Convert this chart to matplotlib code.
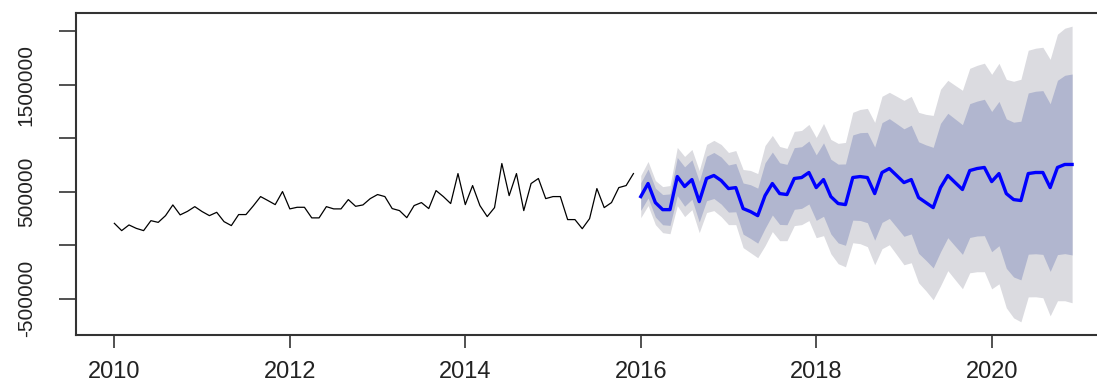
import matplotlib

matplotlib.use("Agg")
import matplotlib.pyplot as plt
import numpy as np

# observed monthly series, Jan 2010 - Dec 2015 (thousands)
hist_start = 2010.0
hist_values = [
    205, 137, 190, 158, 137, 230, 214, 277, 377, 284, 317, 361,
    315, 277, 308, 221, 184, 287, 287, 368, 455, 418, 380, 502,
    340, 355, 355, 256, 256, 361, 340, 340, 427, 364, 377, 436,
    474, 455, 343, 324, 258, 371, 399, 343, 511, 455, 390, 670,
    380, 558, 371, 268, 352, 764, 464, 670, 324, 577, 624, 436,
    455, 455, 240, 240, 155, 249, 530, 352, 399, 539, 558, 670,
]

# forecast, Jan 2016 - Dec 2020 (thousands)
fc_start = 2016.0
fc_mean = [
    455, 577, 399, 333, 333, 642, 549, 614, 408, 624, 652, 605,
    530, 539, 343, 315, 277, 464, 577, 483, 474, 624, 633, 680,
    539, 614, 455, 390, 380, 633, 642, 633, 483, 680, 717, 652,
    586, 614, 446, 399, 352, 539, 652, 586, 521, 698, 717, 727,
    595, 670, 483, 427, 418, 670, 680, 680, 539, 727, 755, 755,
]
fc_lo95 = [
    258, 371, 193, 118, 108, 370, 268, 333, 118, 306, 324, 268,
    193, 193, -22, -69, -116, -4, 128, 43, 43, 184, 193, 231,
    71, 90, -79, -172, -201, 24, 15, -13, -182, -32, 5, -88,
    -182, -163, -350, -425, -509, -379, -237, -322, -406, -257, -247, -247,
    -407, -360, -584, -678, -715, -482, -481, -490, -659, -518, -518, -537,
]
fc_lo80 = [
    326, 442, 264, 192, 186, 464, 365, 430, 218, 416, 437, 385,
    310, 313, 104, 64, 20, 158, 283, 195, 192, 336, 345, 386,
    233, 271, 106, 22, 0, 235, 232, 211, 48, 214, 251, 168,
    84, 106, -75, -140, -211, -61, 71, -8, -85, 73, 87, 90,
    -60, -4, -215, -296, -323, -83, -79, -85, -244, -87, -78, -90,
]
fc_hi80 = [
    584, 712, 534, 474, 480, 820, 733, 798, 598, 832, 867, 825,
    750, 765, 582, 566, 534, 770, 871, 771, 756, 912, 921, 974,
    845, 957, 804, 758, 760, 1031, 1052, 1055, 918, 1146, 1183, 1136,
    1088, 1122, 967, 938, 915, 1139, 1233, 1180, 1127, 1323, 1347, 1364,
    1250, 1344, 1181, 1150, 1159, 1423, 1439, 1445, 1322, 1541, 1588, 1600,
]
fc_hi95 = [
    652, 783, 605, 548, 558, 914, 830, 895, 698, 942, 980, 942,
    867, 885, 708, 699, 670, 932, 1026, 923, 905, 1064, 1073, 1129,
    1007, 1138, 989, 952, 961, 1242, 1269, 1279, 1148, 1392, 1429, 1392,
    1354, 1391, 1242, 1223, 1213, 1457, 1541, 1494, 1448, 1653, 1681, 1701,
    1597, 1700, 1550, 1532, 1551, 1822, 1841, 1850, 1737, 1972, 2028, 2047,
]

x_ticks = [2010, 2012, 2014, 2016, 2018, 2020]
y_ticks = [-500000, 0, 500000, 1000000, 1500000, 2000000]
y_labels = ["-500000", "", "500000", "", "1500000", ""]

hist_t = hist_start + np.arange(len(hist_values)) / 12
fc_t = fc_start + np.arange(len(fc_mean)) / 12
k = 1000

fig = plt.figure(figsize=(10.97, 3.87), dpi=100)
# R-style plot region; the right edge runs past the cropped image
ax = fig.add_axes([0.0693, 0.1344, 0.9429, 0.832])

ax.fill_between(fc_t, np.array(fc_lo95) * k, np.array(fc_hi95) * k,
                color="#DBDBE0", linewidth=0)
ax.fill_between(fc_t, np.array(fc_lo80) * k, np.array(fc_hi80) * k,
                color="#B1B6CF", linewidth=0)
ax.plot(hist_t, np.array(hist_values) * k, color="black", linewidth=0.9)
ax.plot(fc_t, np.array(fc_mean) * k, color="#0000FF", linewidth=2.4)

ax.set_xlim(2009.563, 2021.353)
ax.set_ylim(-838000, 2170000)

ax.set_xticks(x_ticks)
ax.set_xticklabels([str(t) for t in x_ticks], fontsize=17,
                   family="Liberation Sans", color="#222222")
ax.set_yticks(y_ticks)
ax.set_yticklabels(y_labels, fontsize=15, family="Liberation Sans",
                   rotation=90, va="center", color="#222222")
ax.tick_params(axis="x", length=9, width=1.2, pad=10, color="#333333")
ax.tick_params(axis="y", length=12, width=1.2, pad=17, color="#333333")
for spine in ax.spines.values():
    spine.set_linewidth(1.5)
    spine.set_color("#333333")

fig.savefig("out.png", dpi=100)
